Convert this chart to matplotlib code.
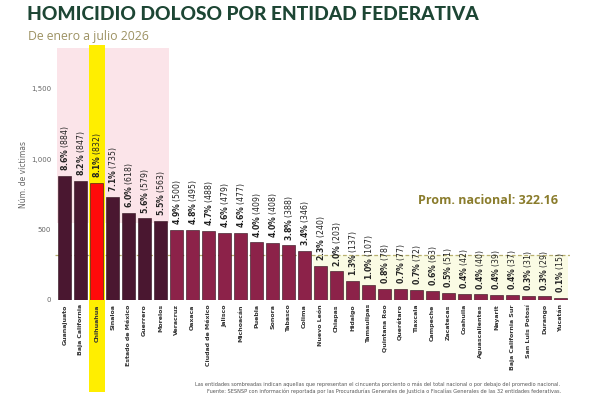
import matplotlib.pyplot as plt
from matplotlib.ticker import FuncFormatter

# data
estados = ['Guanajuato', 'Baja California', 'Chihuahua', 'Sinaloa', 'Estado de México',
           'Guerrero', 'Morelos', 'Veracruz', 'Oaxaca', 'Ciudad de México', 'Jalisco',
           'Michoacán', 'Puebla', 'Sonora', 'Tabasco', 'Colima', 'Nuevo León', 'Chiapas',
           'Hidalgo', 'Tamaulipas', 'Quintana Roo', 'Querétaro', 'Tlaxcala', 'Campeche',
           'Zacatecas', 'Coahuila', 'Aguascalientes', 'Nayarit', 'Baja California Sur',
           'San Luis Potosí', 'Durango', 'Yucatán']
victimas = [884, 847, 832, 735, 618, 579, 563, 500, 495, 488, 479, 477, 409, 408, 388,
            346, 240, 203, 137, 107, 78, 77, 72, 63, 51, 42, 40, 39, 37, 31, 29, 15]
porcentajes = [8.6, 8.2, 8.1, 7.1, 6.0, 5.6, 5.5, 4.9, 4.8, 4.7, 4.6, 4.6, 4.0, 4.0, 3.8,
               3.4, 2.3, 2.0, 1.3, 1.0, 0.8, 0.7, 0.7, 0.6, 0.5, 0.4, 0.4, 0.4, 0.4, 0.3,
               0.3, 0.1]
promedio = 322.16
n_top = 7
destacado = 'Chihuahua'

fig = plt.figure(figsize=(6, 4), dpi=100)
ax = fig.add_axes([0.092, 0.25, 0.858, 0.63])

x = list(range(len(estados)))
colores = []
for i, e in enumerate(estados):
    if e == destacado:
        colores.append('#ff0a0a')
    elif i < n_top:
        colores.append('#4a1730')
    else:
        colores.append('#8c2249')

ax.set_xlim(-0.6, len(estados) - 0.4)
ax.set_ylim(0, 1790)

# shaded regions
ax.fill_between([-0.5, n_top - 0.5], 550, 1790, color='#fbe4e9', zorder=0, lw=0)
below = [i for i, v in enumerate(victimas) if v < promedio]
ax.fill_between([below[0] - 0.5, below[-1] + 0.5], 0, promedio, color='#fafbe4', zorder=0, lw=0)
ih = estados.index(destacado)
ax.axvspan(ih - 0.5, ih + 0.5, ymin=-0.365, ymax=1.012, color='#ffee00', zorder=0.5,
           lw=0, clip_on=False)

ax.axhline(promedio, color='#b8b070', lw=0.9, ls=(0, (3, 2)), zorder=0.8)

ax.bar(x, victimas, width=0.82, color=colores, edgecolor='#2a0d18', linewidth=0.4, zorder=2)

for i, (v, p) in enumerate(zip(victimas, porcentajes)):
    ax.annotate(r'$\mathbf{%.1f\%%}$ (%d)' % (p, v), (i, v), xytext=(0, 3.5),
                textcoords='offset points', rotation=90, ha='center', va='bottom',
                fontsize=5.6, color='#222222', zorder=3)

ax.set_xticks(x)
ax.set_xticklabels(estados, rotation=90, fontsize=4.5, fontweight='bold', color='#333333')
ax.set_yticks([0, 500, 1000, 1500])
ax.yaxis.set_major_formatter(FuncFormatter(lambda v, _: f'{int(v):,}'))
ax.tick_params(axis='both', length=0, pad=3)
ax.tick_params(axis='y', labelsize=5, labelcolor='#666666')
ax.set_ylabel('Núm. de víctimas', fontsize=5.5, color='#666666', labelpad=2)
for s in ax.spines.values():
    s.set_visible(False)

fig.text(0.045, 0.963, 'HOMICIDIO DOLOSO POR ENTIDAD FEDERATIVA', fontsize=13.8,
         fontweight='black', family='Lato', color='#1d4634', va='center')
fig.text(0.047, 0.908, 'De enero a julio 2026', fontsize=8.8, family='Open Sans',
         color='#9d9263', va='center')
fig.text(0.93, 0.5, 'Prom. nacional: 322.16', fontsize=9, fontweight='bold',
         family='Open Sans', color='#8a7c2c', ha='right', va='center')
fig.text(0.63, 0.04, 'Las entidades sombreadas indican aquellas que representan el cincuenta '
         'porciento o más del total nacional o por debajo del promedio nacional.',
         fontsize=3.6, color='#555555', ha='center', va='center')
fig.text(0.64, 0.022, 'Fuente: SESNSP con información reportada por las Procuradurías Generales '
         'de Justicia o Fiscalías Generales de las 32 entidades federativas.',
         fontsize=3.6, color='#555555', ha='center', va='center')

fig.savefig('out.png', dpi=100)
